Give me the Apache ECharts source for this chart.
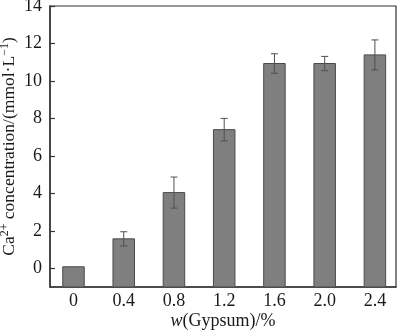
<!DOCTYPE html>
<html>
<head>
<meta charset="utf-8">
<style>
  html, body { margin: 0; padding: 0; background: #ffffff; }
  #chart { width: 400px; height: 331px; }
</style>
<script src="https://cdn.jsdelivr.net/npm/echarts@6/dist/echarts.min.js"></script>
</head>
<body>
<div id="chart"></div>
<script>
// Gypsum dose (%) and the labels printed under each bar
const doseLabels = ['0', '0.4', '0.8', '1.2', '1.6', '2.0', '2.4'];
const doseValues = [0, 0.4, 0.8, 1.2, 1.6, 2.0, 2.4];
// Mean Ca2+ concentration (mmol/L) and its error (±)
const caMean = [0.08, 1.57, 4.04, 7.40, 10.93, 10.93, 11.39];
const caError = [0, 0.38, 0.83, 0.60, 0.52, 0.38, 0.80];
// Y-axis tick values
const yTicks = [0, 2, 4, 6, 8, 10, 12, 14];

const Y_MIN = -1;
const Y_MAX = 14;
const FONT = '"Liberation Serif", "Times New Roman", serif';
const TEXT = '#1a1a1a';

const barData = doseValues.map((d, i) => [d, caMean[i], caError[i]]);

const chart = echarts.init(document.getElementById('chart'), null, { renderer: 'canvas' });

chart.setOption({
  animation: false,
  backgroundColor: '#ffffff',
  grid: {
    left: 50, right: 4, top: 6, bottom: 44,
    outerBoundsMode: 'none',
    containLabel: false,
    show: true, borderColor: '#333333', borderWidth: 1.2,
    backgroundColor: 'transparent'
  },
  xAxis: {
    type: 'value',
    min: -0.187,
    max: 2.568,
    name: '{it|w}(Gypsum)/%',
    nameLocation: 'middle',
    nameMoveOverlap: false,
    nameGap: 25,
    nameTextStyle: {
      fontFamily: FONT, fontSize: 18, color: TEXT,
      rich: { it: { fontFamily: FONT, fontSize: 18, fontStyle: 'italic', color: TEXT } }
    },
    axisLine: { show: true, onZero: false, lineStyle: { color: '#333333', width: 1.5 } },
    axisTick: { show: false },
    splitLine: { show: false },
    axisLabel: {
      customValues: doseValues,
      margin: 5,
      fontFamily: FONT, fontSize: 18, color: TEXT,
      formatter: v => {
        const i = doseValues.findIndex(d => Math.abs(d - v) < 1e-6);
        return i >= 0 ? doseLabels[i] : '';
      }
    }
  },
  yAxis: {
    type: 'value',
    min: Y_MIN,
    max: Y_MAX,
    name: 'Ca{sup|2+} concentration/(mmol·L{sup|−1})',
    nameLocation: 'middle',
    nameMoveOverlap: false,
    nameRotate: 90,
    nameGap: 31,
    nameTextStyle: {
      fontFamily: FONT, fontSize: 17.5, color: TEXT,
      rich: {
        sup: { fontFamily: FONT, fontSize: 12, color: TEXT, verticalAlign: 'bottom', padding: [0, 0, 8, 0] }
      }
    },
    axisLine: { show: true, onZero: false, lineStyle: { color: '#333333', width: 1.5 } },
    axisTick: {
      show: true, inside: true, length: 5,
      customValues: yTicks,
      lineStyle: { color: '#333333', width: 1.2 }
    },
    axisLabel: {
      customValues: yTicks,
      margin: 8,
      fontFamily: FONT, fontSize: 18, color: TEXT
    },
    splitLine: { show: false }
  },
  series: [
    {
      // bars rise from the bottom of the value axis
      type: 'custom',
      data: barData,
      encode: { x: 0, y: 1 },
      renderItem: (params, api) => {
        const x = api.value(0);
        const top = api.coord([x, api.value(1)]);
        const base = api.coord([x, Y_MIN]);
        const w = 21.5;
        return {
          type: 'rect',
          shape: { x: top[0] - w / 2, y: top[1], width: w, height: base[1] - top[1] },
          style: { fill: '#7f7f7f', stroke: '#4a4a4a', lineWidth: 1 }
        };
      },
      z: 2
    },
    {
      // error bars (mean ± error)
      type: 'custom',
      data: barData,
      encode: { x: 0, y: 1 },
      renderItem: (params, api) => {
        const x = api.value(0);
        const m = api.value(1);
        const e = api.value(2);
        if (!e) return null;
        const hi = api.coord([x, m + e]);
        const lo = api.coord([x, m - e]);
        const cap = 3.5;
        const style = { stroke: '#505050', lineWidth: 1 };
        return {
          type: 'group',
          children: [
            { type: 'line', shape: { x1: hi[0], y1: hi[1], x2: lo[0], y2: lo[1] }, style },
            { type: 'line', shape: { x1: hi[0] - cap, y1: hi[1], x2: hi[0] + cap, y2: hi[1] }, style },
            { type: 'line', shape: { x1: lo[0] - cap, y1: lo[1], x2: lo[0] + cap, y2: lo[1] }, style }
          ]
        };
      },
      z: 3
    }
  ]
});
</script>
</body>
</html>
